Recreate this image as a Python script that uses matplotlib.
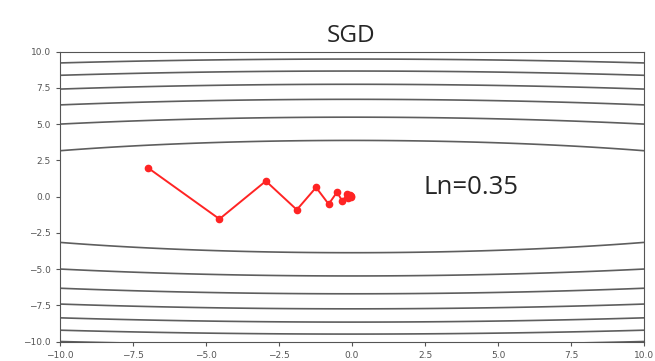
import numpy as np
import matplotlib
matplotlib.use("Agg")
import matplotlib.pyplot as plt

# SGD path
path_x = [-7.0, -4.54, -2.95, -1.89, -1.23, -0.80, -0.51, -0.33, -0.18, -0.12, -0.08, -0.05, -0.03]
path_y = [2.0, -1.55, 1.07, -0.91, 0.63, -0.52, 0.31, -0.33, 0.15, -0.12, 0.08, -0.05, 0.03]

# contour field f(x, y) = x^2 / a + y^2 with these levels
coef_a = 20.0
contour_levels = [15, 30, 45, 60, 75, 90, 105]

title_text = "SGD"
note_text = "Ln=0.35"

fig = plt.figure(figsize=(6.55, 3.61), dpi=100)
ax = fig.add_axes([0.0916, 0.054, 0.8916, 0.803])

gx = np.linspace(-10, 10, 801)
gy = np.linspace(-11, 11, 881)
X, Y = np.meshgrid(gx, gy)
Z = X ** 2 / coef_a + Y ** 2
ax.contour(X, Y, Z, levels=contour_levels, colors="#5e5e5e", linewidths=1.2)

ax.plot(path_x, path_y, "o-", color="#ff2424", linewidth=1.4, markersize=4.5)

ax.set_xlim(-10, 10)
ax.set_ylim(-10, 10)
ticks = [-10.0, -7.5, -5.0, -2.5, 0.0, 2.5, 5.0, 7.5, 10.0]
ax.set_xticks(ticks)
ax.set_yticks(ticks)
ax.tick_params(labelsize=6.5, colors="#555555", length=3)
for s in ax.spines.values():
    s.set_color("#555555")

fig.text(0.5353, 0.8828, title_text, fontsize=17.5, family="Open Sans",
         ha="center", va="baseline", color="#262626")
ax.text(2.45, 0.17, note_text, fontsize=18.5, family="Open Sans",
        ha="left", va="baseline", color="#262626")

fig.savefig("out.png", dpi=100)
